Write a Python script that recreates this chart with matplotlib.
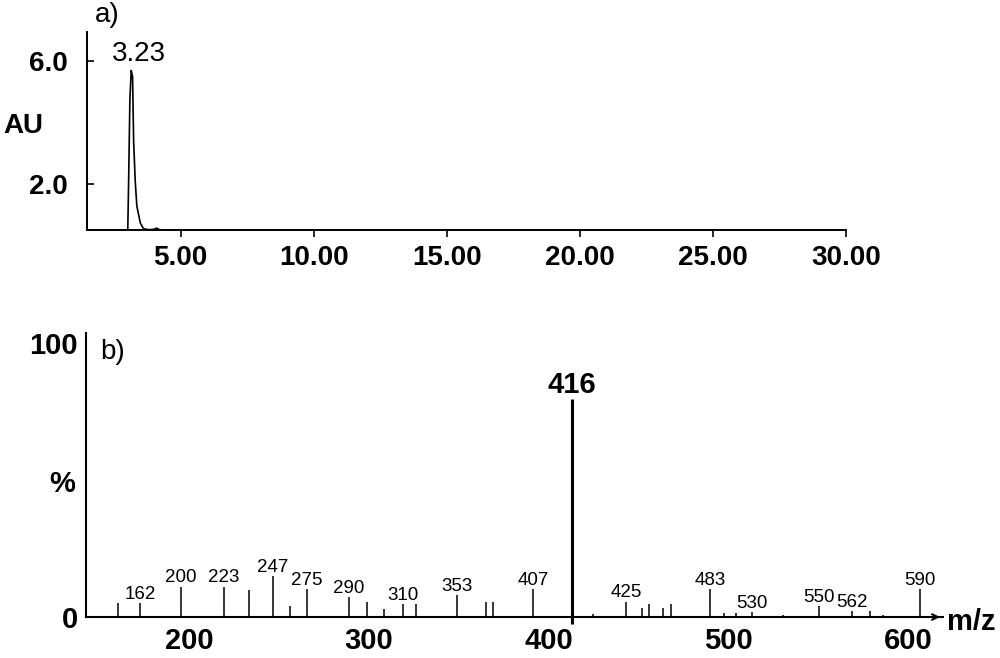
import matplotlib
matplotlib.use('Agg')
import matplotlib.pyplot as plt

plt.rcParams['font.family'] = ['Liberation Sans', 'DejaVu Sans']

# a) chromatogram (retention time in min, absorbance AU)
rt_min = [1.5, 2.9, 3.02, 3.05, 3.10, 3.15, 3.20, 3.24, 3.30, 3.36, 3.49, 3.61,
          3.8, 4.0, 4.1, 4.2, 4.4, 30.0]
absorb = [0.52, 0.52, 0.53, 2.0, 4.8, 5.7, 5.5, 3.4, 2.1, 1.3, 0.75, 0.56,
          0.53, 0.54, 0.58, 0.53, 0.52, 0.52]
rt_ticks = [5, 10, 15, 20, 25, 30]
au_ticks = [2.0, 6.0]
peak_label = '3.23'

# b) mass spectrum
mz_pos = [160.6, 172.6, 195.3, 219.4, 233.3, 246.4, 256.1, 265.4, 288.7, 299.1,
          308.3, 319.1, 326.1, 349.1, 365.1, 368.8, 391.4, 412.7, 424.4, 442.9,
          452.0, 455.9, 463.7, 468.0, 489.7, 497.4, 504.1, 512.8, 530.4, 550.3,
          568.6, 578.6, 585.7, 606.5]
intensity = [5.1, 5.1, 11.1, 11.1, 9.9, 15.0, 4.0, 10.2, 7.3, 5.6,
             2.9, 4.7, 4.7, 8.0, 5.5, 5.5, 10.2, 79.6, 1.0, 5.6,
             3.2, 4.6, 3.2, 4.6, 10.2, 1.5, 1.5, 1.9, 0.8, 4.1,
             2.2, 2.2, 0.8, 10.2]
mz_labels = ['', '162', '200', '223', '', '247', '', '275', '290', '',
             '', '310', '', '353', '', '', '407', '416', '', '425',
             '', '', '', '', '483', '', '', '530', '', '550',
             '562', '', '', '590']
mz_ticks = [200, 300, 400, 500, 600]
base_peak = '416'

fig = plt.figure(figsize=(10, 6.58), dpi=100)

# ---- panel a
ax1 = fig.add_axes([0.0873, 0.6505, 0.759, 0.3014])
ax1.plot(rt_min, absorb, color='black', lw=1.2)
ax1.set_xlim(1.5, 30)
ax1.set_ylim(0.52, 6.96)
for s in ['top', 'right']:
    ax1.spines[s].set_visible(False)
for s in ['left', 'bottom']:
    ax1.spines[s].set_linewidth(1.4)
ax1.set_xticks(rt_ticks)
ax1.set_xticklabels(['%.2f' % t for t in rt_ticks])
ax1.set_yticks(au_ticks)
ax1.set_yticklabels(['%.1f' % v for v in au_ticks])
ax1.tick_params(axis='x', direction='out', length=5, width=1.2, pad=6,
                labelsize=20)
ax1.tick_params(axis='y', direction='in', length=5, width=1.2, pad=14,
                labelsize=20)
for lab in ax1.get_xticklabels() + ax1.get_yticklabels():
    lab.set_fontweight('bold')
ax1.text(3.45, 6.25, peak_label, fontsize=20, ha='center', va='center')
fig.text(0.095, 0.977, 'a)', fontsize=20, ha='left', va='center')
fig.text(0.023, 0.808, 'AU', fontsize=20, fontweight='bold', ha='center', va='center')

# ---- panel b
ax2 = fig.add_axes([0.086, 0.0623, 0.8567, 0.4316])
for x, h, lab in zip(mz_pos, intensity, mz_labels):
    if lab == base_peak:
        ax2.vlines(x, -2.5, h, color='black', lw=2.2, clip_on=False)
        ax2.annotate(lab, (x, h), xytext=(0, 4), textcoords='offset points',
                     ha='center', va='baseline', fontsize=21, fontweight='bold')
    else:
        ax2.vlines(x, 0, h, color='black', lw=1.1)
        if lab:
            ax2.annotate(lab, (x, h), xytext=(0, 3), textcoords='offset points',
                         ha='center', va='baseline', fontsize=13.5)
ax2.set_xlim(142.6, 619.1)
ax2.set_ylim(0, 103.6)
for s in ['top', 'right']:
    ax2.spines[s].set_visible(False)
for s in ['left', 'bottom']:
    ax2.spines[s].set_linewidth(1.5)
ax2.set_xticks(mz_ticks)
ax2.set_yticks([0, 100])
ax2.tick_params(axis='x', length=0, pad=7, labelsize=21)
ax2.tick_params(axis='y', length=0, pad=6, labelsize=21)
for lab in ax2.get_xticklabels() + ax2.get_yticklabels():
    lab.set_fontweight('bold')
ax2.annotate('', xy=(1.0, 0), xycoords=('axes fraction', 'data'),
             xytext=(0.985, 0), textcoords=('axes fraction', 'data'),
             arrowprops=dict(arrowstyle='->', lw=1.5, color='black'))
fig.text(0.100, 0.465, 'b)', fontsize=20, ha='left', va='center')
fig.text(0.062, 0.264, '%', fontsize=21, fontweight='bold', ha='center', va='center')
fig.text(0.947, 0.055, 'm/z', fontsize=21, fontweight='bold', ha='left', va='center')

fig.savefig('out.png', dpi=100)
